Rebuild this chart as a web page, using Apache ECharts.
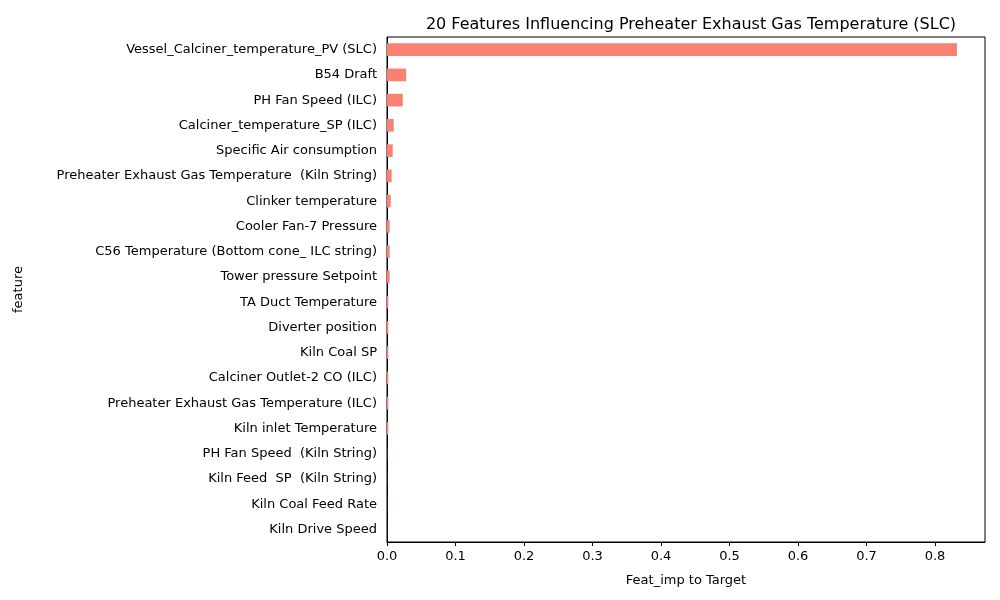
<!DOCTYPE html>
<html>
<head>
<meta charset="utf-8">
<script src="https://cdn.jsdelivr.net/npm/echarts@6/dist/echarts.min.js"></script>
<style>html,body{margin:0;padding:0;background:#fff}#chart{width:1000px;height:600px}</style>
</head>
<body>
<div id="chart"></div>
<script>
// top to bottom as in the picture
const features = [
  'Vessel_Calciner_temperature_PV (SLC)', 'B54 Draft', 'PH Fan Speed (ILC)',
  'Calciner_temperature_SP (ILC)', 'Specific Air consumption',
  'Preheater Exhaust Gas Temperature  (Kiln String)', 'Clinker temperature',
  'Cooler Fan-7 Pressure', 'C56 Temperature (Bottom cone_ ILC string)',
  'Tower pressure Setpoint', 'TA Duct Temperature', 'Diverter position',
  'Kiln Coal SP', 'Calciner Outlet-2 CO (ILC)',
  'Preheater Exhaust Gas Temperature (ILC)', 'Kiln inlet Temperature',
  'PH Fan Speed  (Kiln String)', 'Kiln Feed  SP  (Kiln String)',
  'Kiln Coal Feed Rate', 'Kiln Drive Speed'
]
const importance = [0.832, 0.028, 0.023, 0.0098, 0.0083, 0.0068, 0.0054, 0.0039, 0.0039, 0.0039,
  0.0019, 0.0019, 0.0019, 0.0019, 0.0019, 0.0019, 0.0003, 0.0002, 0.0002, 0.0001]
const xTicks = [0, 0.1, 0.2, 0.3, 0.4, 0.5, 0.6, 0.7, 0.8]

const chart = echarts.init(document.getElementById('chart'))
const font = 'DejaVu Sans'
chart.setOption({
  animation: false,
  textStyle: { fontFamily: font },
  title: {
    text: '20 Features Influencing Preheater Exhaust Gas Temperature (SLC)',
    left: 686, top: 12, textAlign: 'center',
    textStyle: { fontSize: 16, fontWeight: 'normal', color: '#000', fontFamily: font }
  },
  grid: { left: 387, right: 15, top: 37, bottom: 58, show: true, borderColor: '#000', borderWidth: 1 },
  xAxis: {
    type: 'value', min: 0, max: 0.873, interval: 0.1,
    name: 'Feat_imp to Target', nameLocation: 'middle', nameGap: 32,
    nameTextStyle: { fontSize: 13, color: '#000' },
    axisLine: { show: true, lineStyle: { color: '#000' } },
    axisTick: { show: true, length: 4, lineStyle: { color: '#000' }, customValues: xTicks },
    splitLine: { show: false },
    axisLabel: { color: '#000', fontSize: 13, customValues: xTicks, formatter: v => v.toFixed(1) }
  },
  yAxis: {
    type: 'category', inverse: true, data: features,
    name: 'feature', nameLocation: 'middle', nameGap: 362,
    nameTextStyle: { fontSize: 13, color: '#000' },
    axisLine: { lineStyle: { color: '#000' } },
    axisTick: { alignWithLabel: true, length: 4, lineStyle: { color: '#000' } },
    axisLabel: { color: '#000', fontSize: 13, margin: 10 }
  },
  series: [{
    type: 'bar', data: importance, barWidth: '50%',
    itemStyle: { color: '#fa8072' }
  }]
})
</script>
</body>
</html>
